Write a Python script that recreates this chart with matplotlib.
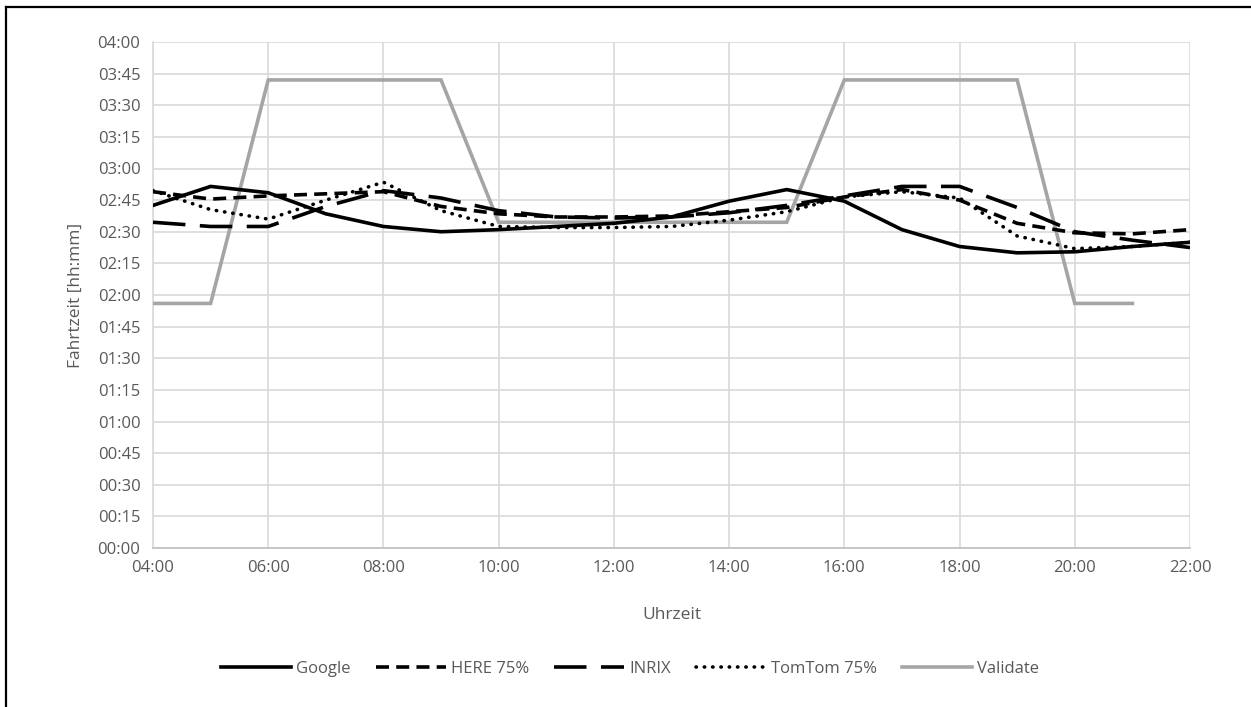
import matplotlib
matplotlib.use("Agg")
import matplotlib.pyplot as plt
from matplotlib.lines import Line2D
from matplotlib.ticker import FuncFormatter, MultipleLocator
import numpy as np

# Hours of day (x) and travel times in minutes (y)
hours = [4, 5, 6, 7, 8, 9, 10, 11, 12, 13, 14, 15, 16, 17, 18, 19, 20, 21, 22]

google = [162.5, 171.5, 168.5, 158.5, 152.5, 150.0, 151.0, 152.5, 154.0, 157.0,
          164.5, 170.0, 164.5, 151.0, 143.0, 140.0, 140.5, 143.0, 145.0]
here75 = [169.0, 165.5, 167.0, 168.0, 169.0, 162.0, 158.5, 157.0, 157.0, 157.5,
          159.5, 161.5, 166.5, 170.0, 165.0, 154.0, 149.5, 149.0, 151.0]
inrix = [154.5, 152.5, 152.5, 162.0, 169.5, 166.0, 160.0, 157.0, 156.5, 157.0,
         159.0, 162.5, 167.0, 171.5, 171.5, 161.5, 150.0, 146.0, 142.5]
tomtom75 = [169.5, 160.5, 156.0, 165.0, 173.5, 160.0, 152.5, 152.0, 152.0, 152.5,
            155.5, 159.5, 166.5, 169.0, 166.0, 148.0, 142.0, 143.0, 145.0]
validate = [116.0, 116.0, 222.0, 222.0, 222.0, 222.0, 154.5, 154.5, 154.5, 154.5,
            154.5, 154.5, 222.0, 222.0, 222.0, 222.0, 116.0, 116.0, np.nan]

series_names = ["Google", "HERE 75%", "INRIX", "TomTom 75%", "Validate"]

plt.rcParams['font.family'] = ['Open Sans', 'DejaVu Sans']

fig = plt.figure(figsize=(12.51, 7.07), dpi=100)
ax = fig.add_axes([153/1251, 1-548/707, (1190-153)/1251, (548-42)/707])

lw = 2.6
ax.plot(hours, validate, color='#A5A5A5', lw=lw, solid_joinstyle='miter', label=series_names[4], zorder=3)
ax.plot(hours, google, color='black', lw=lw, label=series_names[0], zorder=4)
ax.plot(hours, here75, color='black', lw=lw, linestyle=(0, (3.6, 2.0)), label=series_names[1], zorder=4)
ax.plot(hours, inrix, color='black', lw=lw, linestyle=(0, (9.0, 4.0)), label=series_names[2], zorder=4)
ax.plot(hours, tomtom75, color='black', lw=lw, linestyle=(0, (0.1, 2.2)), dash_capstyle='round',
        label=series_names[3], zorder=4)

ax.set_xlim(4, 22)
ax.set_ylim(0, 240)
ax.xaxis.set_major_locator(MultipleLocator(2))
ax.yaxis.set_major_locator(MultipleLocator(15))
ax.xaxis.set_major_formatter(FuncFormatter(lambda v, p: f"{int(round(v)):02d}:00"))
ax.yaxis.set_major_formatter(FuncFormatter(lambda v, p: f"{int(v)//60:02d}:{int(v)%60:02d}"))

ax.grid(True, color='#D9D9D9', lw=1.2, zorder=0)
ax.set_axisbelow(True)
for s in ['top', 'right']:
    ax.spines[s].set_visible(False)
ax.spines['left'].set_color('#D9D9D9')
ax.spines['left'].set_linewidth(1.2)
ax.spines['bottom'].set_color('#BFBFBF')
ax.spines['bottom'].set_linewidth(1.2)
ax.tick_params(axis='both', length=0, labelsize=12, colors='#595959', pad=9)
ax.tick_params(axis='x', pad=9)

ax.set_xlabel("Uhrzeit", fontsize=12.5, color='#595959', labelpad=22)
ax.set_ylabel("Fahrtzeit [hh:mm]", fontsize=12.5, color='#595959', labelpad=10)

handles, labels = ax.get_legend_handles_labels()
order = [labels.index(n) for n in series_names]
leg = fig.legend([handles[i] for i in order], [labels[i] for i in order],
                 loc='center', bbox_to_anchor=(630/1251, 1-669/707), ncol=5, frameon=False,
                 fontsize=12, handlelength=4.2, handletextpad=0.3, columnspacing=1.5)
for t in leg.get_texts():
    t.set_color('#595959')

# outer border (left and top visible)
bx = 6/1251
by = 1-7/707
fig.add_artist(Line2D([bx, bx], [0, by], transform=fig.transFigure, color='black', lw=1.6))
fig.add_artist(Line2D([bx, 1], [by, by], transform=fig.transFigure, color='black', lw=1.6))

fig.savefig("out.png", dpi=100)
